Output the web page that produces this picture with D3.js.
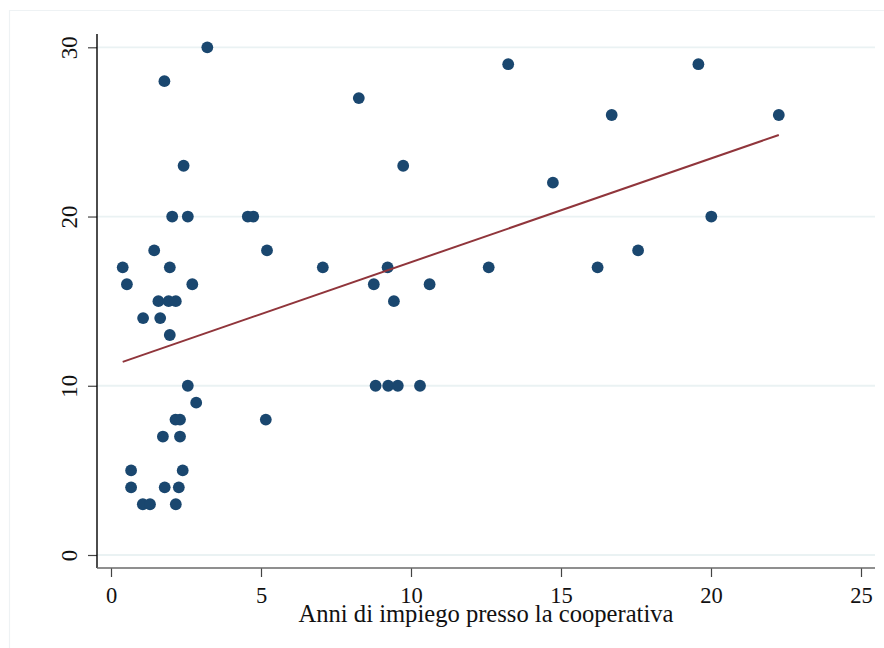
<!DOCTYPE html>
<html>
<head>
<meta charset="utf-8">
<script src="https://cdn.jsdelivr.net/npm/d3@7"></script>
<style>
  html, body { margin: 0; padding: 0; background: #fff; }
  svg { display: block; }
</style>
</head>
<body>
<svg id="chart" width="884" height="648"></svg>
<script>
// Years of employment at the cooperative (x) and the observed score (y)
const anni = [
  3.21, 1.78, 2.42, 2.04, 2.56, 4.56, 4.74, 1.44, 5.20, 0.39,
  1.96, 0.53, 2.71, 1.58, 1.92, 2.16, 1.07, 1.64, 1.96, 2.56,
  2.84, 2.15, 2.30, 5.16, 1.73, 2.30, 0.67, 2.39, 0.67, 1.79,
  2.26, 1.06, 1.30, 2.16, 8.26, 13.24, 9.74, 14.73, 7.06, 9.22,
  12.59, 8.76, 10.62, 9.43, 8.82, 9.24, 9.56, 10.30, 19.58, 16.69,
  22.26, 20.01, 17.57, 16.22
];
const valori = [
  30, 28, 23, 20, 20, 20, 20, 18, 18, 17,
  17, 16, 16, 15, 15, 15, 14, 14, 13, 10,
  9, 8, 8, 8, 7, 7, 5, 5, 4, 4,
  4, 3, 3, 3, 27, 29, 23, 22, 17, 17,
  17, 16, 16, 15, 10, 10, 10, 10, 29, 26,
  26, 20, 18, 17
];
// Fitted linear trend, from the smallest to the largest x
const fitX = [0.39, 22.26];
const fitY = [11.41, 24.82];

const xTicks = [0, 5, 10, 15, 20, 25];
const yTicks = [0, 10, 20, 30];
const xTitle = "Anni di impiego presso la cooperativa";

const svg = d3.select("#chart");
const font = "'Liberation Serif', 'Times New Roman', serif";

// plot region (axis lines) and inner data range
const box = { left: 97, right: 875, top: 34, bottom: 568 };
const x = d3.scaleLinear().domain([0, 25]).range([111, 861]);
const y = d3.scaleLinear().domain([0, 30]).range([555, 47.3]);

// faint outer frame of the graph region
svg.append("path")
  .attr("d", "M9.5,648 V10.5 H884")
  .attr("fill", "none")
  .attr("stroke", "#eef2f4")
  .attr("stroke-width", 1.2);

// horizontal grid lines
svg.append("g").selectAll("line")
  .data(yTicks)
  .join("line")
  .attr("x1", box.left).attr("x2", box.right)
  .attr("y1", d => y(d)).attr("y2", d => y(d))
  .attr("stroke", "#eaf2f3")
  .attr("stroke-width", 1.8);

// y axis
const yAxis = svg.append("g")
  .attr("transform", `translate(${box.left},0)`)
  .call(d3.axisLeft(y).tickValues(yTicks).tickSize(9).tickSizeOuter(0).tickPadding(0));
yAxis.select(".domain").remove();
yAxis.selectAll(".tick line").attr("stroke", "#444").attr("stroke-width", 1.2);
yAxis.selectAll(".tick text")
  .attr("font-family", font)
  .attr("font-size", 23)
  .attr("fill", "#111")
  .attr("text-anchor", "middle")
  .attr("x", null).attr("dy", null)
  .attr("transform", "translate(-20.5,0) rotate(-90)");
svg.append("line")
  .attr("x1", box.left).attr("x2", box.left)
  .attr("y1", box.top).attr("y2", box.bottom)
  .attr("stroke", "#000").attr("stroke-width", 1.4);

// x axis
const xAxis = svg.append("g")
  .attr("transform", `translate(0,${box.bottom})`)
  .call(d3.axisBottom(x).tickValues(xTicks).tickSize(9).tickSizeOuter(0).tickPadding(0));
xAxis.select(".domain").remove();
xAxis.selectAll(".tick line").attr("stroke", "#444").attr("stroke-width", 1.2);
xAxis.selectAll(".tick text")
  .attr("font-family", font)
  .attr("font-size", 22.5)
  .attr("fill", "#111")
  .attr("dy", null)
  .attr("y", 35);
svg.append("line")
  .attr("x1", box.left).attr("x2", box.right)
  .attr("y1", box.bottom).attr("y2", box.bottom)
  .attr("stroke", "#6a6a6a").attr("stroke-width", 1.6);

// x axis title
svg.append("text")
  .attr("x", (box.left + box.right) / 2)
  .attr("y", 622)
  .attr("text-anchor", "middle")
  .attr("font-family", font)
  .attr("font-size", 24.6)
  .attr("fill", "#111")
  .text(xTitle);

// scatter points
const pts = anni.map((d, i) => ({ x: d, y: valori[i] }));
svg.append("g").selectAll("circle")
  .data(pts)
  .join("circle")
  .attr("cx", d => x(d.x))
  .attr("cy", d => y(d.y))
  .attr("r", 5.9)
  .attr("fill", "#1a476f");

// linear fit
const fit = fitX.map((d, i) => [d, fitY[i]]);
svg.append("path")
  .datum(fit)
  .attr("d", d3.line().x(d => x(d[0])).y(d => y(d[1])))
  .attr("fill", "none")
  .attr("stroke", "#90353b")
  .attr("stroke-width", 2);
</script>
</body>
</html>
